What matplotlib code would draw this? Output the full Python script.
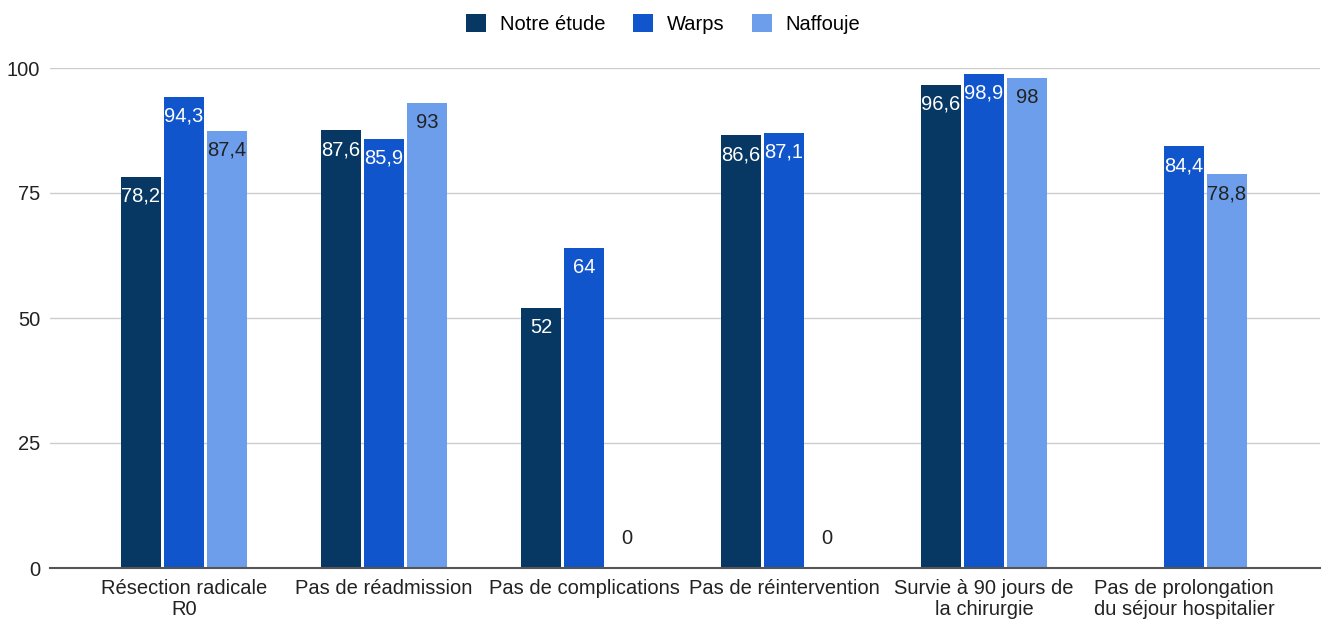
import numpy as np
import matplotlib.pyplot as plt

# Data
categories = ["Résection radicale\nR0", "Pas de réadmission", "Pas de complications",
              "Pas de réintervention", "Survie à 90 jours de\nla chirurgie",
              "Pas de prolongation\ndu séjour hospitalier"]
series_names = ["Notre étude", "Warps", "Naffouje"]
notre_etude = [78.2, 87.6, 52, 86.6, 96.6, None]
warps = [94.3, 85.9, 64, 87.1, 98.9, 84.4]
naffouje = [87.4, 93, 0, 0, 98, 78.8]

colors = ["#073763", "#1155cc", "#6d9eeb"]
label_colors = ["white", "white", "#222222"]
FS = 14.5

fig = plt.figure(figsize=(13.21, 6.19), dpi=100)
ax = fig.add_axes([50 / 1321, 1 - 568 / 619, 1270 / 1321, 500 / 619])

x = np.arange(len(categories))
width = 0.2
offset = 0.215

def fmt(v):
    s = f"{v:.1f}".replace(".", ",")
    return s[:-2] if s.endswith(",0") else s

for i, (vals, name) in enumerate(zip([notre_etude, warps, naffouje], series_names)):
    xs = x + (i - 1) * offset
    heights = [v if v is not None else 0 for v in vals]
    mask = [v is not None for v in vals]
    ax.bar(xs[mask], np.array(heights)[mask], width, color=colors[i], label=name, zorder=3)
    for xi, v in zip(xs, vals):
        if v is None:
            continue
        if v < 8:
            # too short to hold its label: put it above the bar
            ax.text(xi, v + 6, fmt(v), ha="center", va="center", fontsize=FS,
                    color="#222222", family="Liberation Sans", zorder=4)
        else:
            ax.text(xi, v - 3.9, fmt(v), ha="center", va="center", fontsize=FS,
                    color=label_colors[i], family="Liberation Sans", zorder=4)

ax.set_xlim(-0.67, 5.68)
ax.set_ylim(0, 100)
ax.set_yticks([0, 25, 50, 75, 100])
ax.set_xticks(x)
ax.set_xticklabels(categories, fontsize=FS, family="Liberation Sans", color="#222222",
                   linespacing=1.15)
ax.tick_params(axis="y", length=0, pad=7, labelsize=FS, labelcolor="#222222")
ax.tick_params(axis="x", length=0, pad=8)
for lab in ax.get_yticklabels():
    lab.set_family("Liberation Sans")
ax.grid(axis="y", color="#cccccc", linewidth=1, zorder=0)
for s in ["top", "right", "left"]:
    ax.spines[s].set_visible(False)
ax.spines["bottom"].set_color("#555555")
ax.spines["bottom"].set_linewidth(1.5)
ax.spines["bottom"].set_zorder(5)

fig.legend(loc="center", bbox_to_anchor=(0.502, 1 - 24 / 619), ncol=3, frameon=False,
           prop={"family": "Liberation Sans", "size": FS}, handlelength=1.0,
           handleheight=1.0, handletextpad=0.7, columnspacing=1.35)

fig.savefig("out.png", dpi=100)
